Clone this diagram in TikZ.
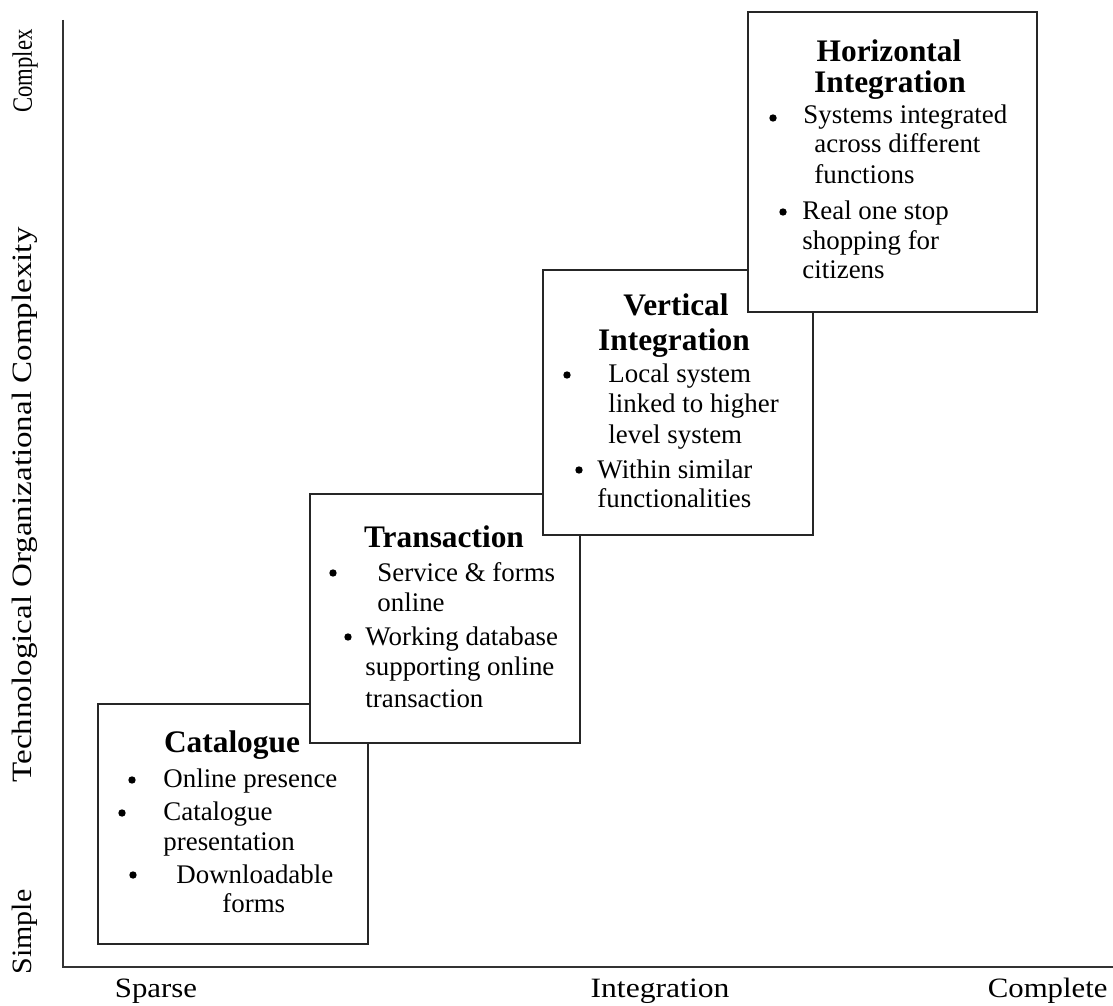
\documentclass[tikz,border=0pt]{standalone}
\usepackage{fontspec}
\usepackage{graphicx}
\setmainfont{Liberation Serif}
\def\pxu{0.4464pt}
\tikzset{
  stagebox/.style={draw=black!85, line width=0.9pt, fill=white, rectangle, inner sep=0pt, anchor=north west},
  axisline/.style={draw=black!80, line width=0.9pt},
  head/.style={anchor=base, inner sep=0pt, font=\bfseries\fontsize{14}{15}\selectfont},
  txt/.style={anchor=base west, inner sep=0pt, font=\fontsize{12}{13}\selectfont},
  bul/.style={circle, fill=black, inner sep=0pt, minimum size=3.3pt},
  axlab/.style={inner sep=0pt, font=\fontsize{12.5}{13}\selectfont},
}
\begin{document}
\begin{tikzpicture}[x=\pxu, y=-\pxu]
\useasboundingbox (0,0) rectangle (1113,1005);
\fill[white] (0,0) rectangle (1113,1005);

% axes
\coordinate (top) at (63,20);
\coordinate (origin) at (63,967);
\coordinate (right) at (1113,967);
\draw[axisline] (top) -- (origin) -- (right);

% axis labels
\node[axlab, anchor=base, rotate=90] (complex) at (32,71) {\scalebox{0.81}[1]{Complex}};
\node[axlab, anchor=base, rotate=90] (tocomp) at (32,505) {\scalebox{1.18}[1]{Technological Organizational Complexity}};
\node[axlab, anchor=base, rotate=90] (simple) at (32,932) {\scalebox{1.07}[1]{Simple}};
\node[axlab, anchor=base] (sparse) at (156,997) {\scalebox{1.1}[1]{Sparse}};
\node[axlab, anchor=base] (integ) at (660,997) {\scalebox{1.13}[1]{Integration}};
\node[axlab, anchor=base east] (complete) at (1108,997) {\scalebox{1.1}[1]{Complete}};

% Catalogue
\node[stagebox, minimum width=270*\pxu, minimum height=240*\pxu] (catbox) at (97,703) {};
\node[head] (cath) at (232,752) {Catalogue};
\node[bul] (cb1) at (132,780) {};
\node[txt] (ct1) at (163,787) {Online presence};
\node[bul] (cb2) at (122,813) {};
\node[txt] (ct2) at (163,820) {Catalogue};
\node[txt] (ct3) at (163,850) {presentation};
\node[bul] (cb3) at (133,875) {};
\node[txt] (ct4) at (176,883) {Downloadable};
\node[txt] (ct5) at (222,912) {forms};

% Transaction
\node[stagebox, minimum width=270*\pxu, minimum height=249*\pxu] (trbox) at (309,493) {};
\node[head] (trh) at (444,547) {Transaction};
\node[bul] (tb1) at (333,573) {};
\node[txt] (tt1) at (377,581) {Service \& forms};
\node[txt] (tt2) at (377,611) {online};
\node[bul] (tb2) at (348,637) {};
\node[txt] (tt3) at (365,645) {Working database};
\node[txt] (tt4) at (365,675) {supporting online};
\node[txt] (tt5) at (365,707) {transaction};

% Vertical Integration
\node[stagebox, minimum width=270*\pxu, minimum height=265*\pxu] (vibox) at (542,269) {};
\node[head] (vih1) at (676,315) {Vertical};
\node[head] (vih2) at (674,350) {Integration};
\node[bul] (vb1) at (567,375) {};
\node[txt] (vt1) at (608,382) {Local system};
\node[txt] (vt2) at (608,412) {linked to higher};
\node[txt] (vt3) at (608,443) {level system};
\node[bul] (vb2) at (579,470) {};
\node[txt] (vt4) at (597,478) {Within similar};
\node[txt] (vt5) at (597,507) {functionalities};

% Horizontal Integration
\node[stagebox, minimum width=289*\pxu, minimum height=300*\pxu] (hibox) at (747,11) {};
\node[head] (hih1) at (889,62) {Horizontal};
\node[head] (hih2) at (890,93) {Integration};
\node[bul] (hb1) at (773,118) {};
\node[txt] (ht1) at (803,124) {Systems integrated};
\node[txt] (ht2) at (814,153) {across different};
\node[txt] (ht3) at (814,184) {functions};
\node[bul] (hb2) at (783,212) {};
\node[txt] (ht4) at (802,220) {Real one stop};
\node[txt] (ht5) at (802,250) {shopping for};
\node[txt] (ht6) at (802,278) {citizens};
\end{tikzpicture}
\end{document}
